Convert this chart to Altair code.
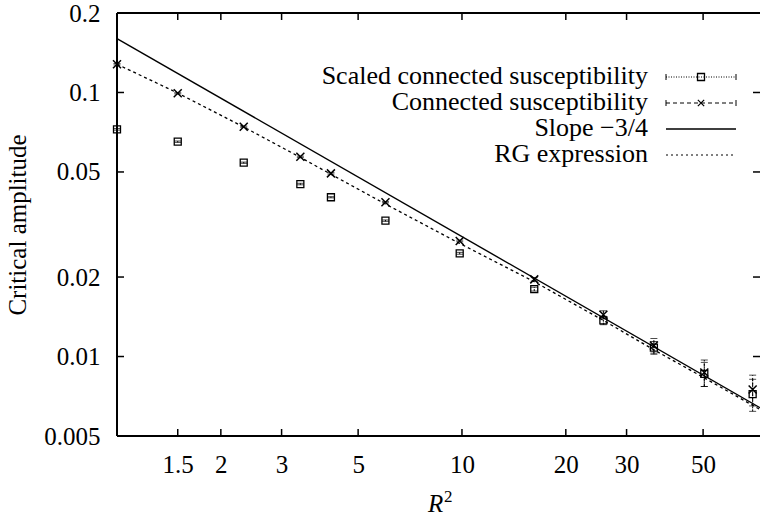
import altair as alt
import pandas as pd

# ---- measured amplitudes versus R^2 ----
r2 = [1.0, 1.5, 2.33, 3.4, 4.17, 6.0, 9.85, 16.2, 25.7, 36.0, 50.4, 69.6]

conn = [0.128, 0.0993, 0.0742, 0.0571, 0.0494, 0.0384, 0.0274, 0.0196, 0.0144, 0.0110, 0.0087, 0.0075]
conn_err = [0.0008, 0.0005, 0.0004, 0.0003, 0.0003, 0.0002, 0.0002, 0.0003, 0.0005, 0.0007, 0.0010, 0.0010]

scaled = [0.0725, 0.0651, 0.0542, 0.0450, 0.0401, 0.0327, 0.0246, 0.0180, 0.0137, 0.0108, 0.0086, 0.0072]
scaled_err = [0.0005, 0.0004, 0.0003, 0.0003, 0.0002, 0.0002, 0.0002, 0.0003, 0.0005, 0.0006, 0.0009, 0.0010]

# power law with exponent -3/4 (straight on log-log axes)
slope_x = [1.0, 73.1]
slope_y = [0.160, 0.0064]

# RG expression curve
rg_x = [1.0, 1.5, 2.33, 3.4, 4.17, 6.0, 9.85, 16.2, 25.7, 36.0, 50.4, 73.1]
rg_y = [0.128, 0.0995, 0.0740, 0.0568, 0.0490, 0.0378, 0.0268, 0.0192, 0.0137, 0.0106, 0.0083, 0.0063]

x_ticks = [1.5, 2, 3, 5, 10, 20, 30, 50]
y_ticks = [0.005, 0.01, 0.02, 0.05, 0.1, 0.2]
y_inner_ticks = [0.01, 0.02, 0.05, 0.1]

legend_labels = ["Scaled connected susceptibility", "Connected susceptibility",
                 "Slope \u22123/4", "RG expression"]

# ---- layout ----
W, H = 643, 423
FONT = "Liberation Serif"
TICK = 7

xs = alt.Scale(type="log", domain=[1, 73.1], nice=False, zero=False)
ys = alt.Scale(type="log", domain=[0.005, 0.2], nice=False, zero=False)

conn_df = pd.DataFrame({"x": r2, "y": conn,
                        "lo": [v - e for v, e in zip(conn, conn_err)],
                        "hi": [v + e for v, e in zip(conn, conn_err)]})
scaled_df = pd.DataFrame({"x": r2, "y": scaled,
                          "lo": [v - e for v, e in zip(scaled, scaled_err)],
                          "hi": [v + e for v, e in zip(scaled, scaled_err)]})
slope_df = pd.DataFrame({"x": slope_x, "y": slope_y})
rg_df = pd.DataFrame({"x": rg_x, "y": rg_y})
xt_df = pd.DataFrame({"x": x_ticks})
yt_df = pd.DataFrame({"y": y_inner_ticks})
one = alt.Data(values=[{}])

x_axis = alt.Axis(values=x_ticks, format="~g", grid=False, ticks=False,
                  tickSize=0, domain=False, labelFont=FONT, labelFontSize=25,
                  labelColor="black", labelPadding=36, labelBaseline="alphabetic",
                  labelOverlap=False, labelFlush=False)
y_axis = alt.Axis(values=y_ticks, format="~g", title="Critical amplitude", grid=False,
                  ticks=False, tickSize=0, domain=False, labelFont=FONT, labelFontSize=25,
                  labelColor="black", labelPadding=17, labelOverlap=False,
                  titleFont=FONT, titleFontSize=25, titleFontWeight="normal",
                  titleColor="black", titleX=-92, titleY=H / 2, titleAngle=270,
                  titleAlign="center", titleBaseline="alphabetic")


def X(f="x"):
    return alt.X(f"{f}:Q", scale=xs, axis=x_axis, title=None)


def Y(f="y"):
    return alt.Y(f"{f}:Q", scale=ys, axis=y_axis, title="Critical amplitude")


slope_line = alt.Chart(slope_df).mark_line(color="black", strokeWidth=1.4, clip=False).encode(
    x=X(), y=Y())
rg_line = alt.Chart(rg_df).mark_line(color="black", strokeWidth=1.3, strokeDash=[3, 3]).encode(
    x=X(), y=Y())


# error bars with caps
def error_layers(df, dash):
    bar = alt.Chart(df).mark_rule(color="black", strokeWidth=1, strokeDash=dash).encode(
        x=X(), y=Y("lo"), y2="hi")
    lo_cap = alt.Chart(df).mark_tick(color="black", orient="horizontal", size=7, thickness=1).encode(
        x=X(), y=Y("lo"))
    hi_cap = alt.Chart(df).mark_tick(color="black", orient="horizontal", size=7, thickness=1).encode(
        x=X(), y=Y("hi"))
    return [bar, lo_cap, hi_cap]


X_SHAPE = "M-1,-1L1,1M-1,1L1,-1"

scaled_pts = alt.Chart(scaled_df).mark_point(shape="square", filled=False, size=49,
                                             color="black", strokeWidth=1.3, opacity=1).encode(
    x=X(), y=Y())
conn_pts = alt.Chart(conn_df).mark_point(shape=X_SHAPE, filled=False, size=64,
                                         color="black", strokeWidth=1.5, opacity=1).encode(
    x=X(), y=Y())

# frame (left, top, bottom) and inward ticks on all four sides
frame = [
    alt.Chart(one).mark_rule(color="black", strokeWidth=2).encode(
        x=alt.value(0), y=alt.value(0), y2=alt.value(H)),
    alt.Chart(one).mark_rule(color="black", strokeWidth=2).encode(
        x=alt.value(0), x2=alt.value(W), y=alt.value(0)),
    alt.Chart(one).mark_rule(color="black", strokeWidth=2).encode(
        x=alt.value(0), x2=alt.value(W), y=alt.value(H)),
]
ticks = [
    alt.Chart(xt_df).mark_rule(color="black", strokeWidth=1.5).encode(
        x=X(), y=alt.value(H), y2=alt.value(H - TICK)),
    alt.Chart(xt_df).mark_rule(color="black", strokeWidth=1.5).encode(
        x=X(), y=alt.value(0), y2=alt.value(TICK)),
    alt.Chart(yt_df).mark_rule(color="black", strokeWidth=1.5).encode(
        y=Y(), x=alt.value(0), x2=alt.value(TICK)),
    alt.Chart(yt_df).mark_rule(color="black", strokeWidth=1.5).encode(
        y=Y(), x=alt.value(W - TICK), x2=alt.value(W)),
]

# x-axis title: italic R with a raised 2
x_title = [
    alt.Chart(one).mark_text(font=FONT, fontSize=25, fontStyle="italic", align="left",
                             baseline="alphabetic", color="black").encode(
        x=alt.value(311), y=alt.value(H + 76), text=alt.value("R")),
    alt.Chart(one).mark_text(font=FONT, fontSize=17, align="left",
                             baseline="alphabetic", color="black").encode(
        x=alt.value(327), y=alt.value(H + 66), text=alt.value("2")),
]

# key in the upper right: labels right-aligned, line samples to their right
LEG_TEXT_X, LEG_X0, LEG_X1, LEG_Y0, LEG_DY = 531, 549, 619, 64, 26
LEG_XC = (LEG_X0 + LEG_X1) / 2
legend = []
for i, label in enumerate(legend_labels):
    yc = LEG_Y0 + i * LEG_DY
    legend.append(alt.Chart(one).mark_text(font=FONT, fontSize=26, align="right",
                                           baseline="alphabetic", color="black").encode(
        x=alt.value(LEG_TEXT_X), y=alt.value(yc + 7), text=alt.value(label)))
    dash = {0: [1, 1.5], 1: [4, 3], 2: [1, 0], 3: [2, 3]}[i]
    legend.append(alt.Chart(one).mark_rule(color="black", strokeWidth=1.3 if i == 2 else 1,
                                           strokeDash=dash).encode(
        x=alt.value(LEG_X0), x2=alt.value(LEG_X1), y=alt.value(yc)))
    if i < 2:
        for cx in (LEG_X0, LEG_X1):
            legend.append(alt.Chart(one).mark_rule(color="black", strokeWidth=1).encode(
                x=alt.value(cx), y=alt.value(yc - 3), y2=alt.value(yc + 3)))
        shape, size, sw = ("square", 49, 1.3) if i == 0 else (X_SHAPE, 40, 1.2)
        legend.append(alt.Chart(one).mark_point(shape=shape, size=size, filled=False,
                                                color="black", strokeWidth=sw, opacity=1).encode(
            x=alt.value(LEG_XC), y=alt.value(yc)))

chart = alt.layer(
    slope_line, rg_line,
    *error_layers(scaled_df, [2, 1]), *error_layers(conn_df, [3, 2]),
    scaled_pts, conn_pts,
    *frame, *ticks, *x_title, *legend,
).properties(
    width=W, height=H,
    autosize=alt.AutoSizeParams(type="none"),
    padding={"left": 117, "top": 13, "right": 0, "bottom": 80},
    background="white",
).configure_view(stroke=None).configure(font=FONT)

chart.save("out.html", embed_options={"renderer": "svg", "actions": False})
